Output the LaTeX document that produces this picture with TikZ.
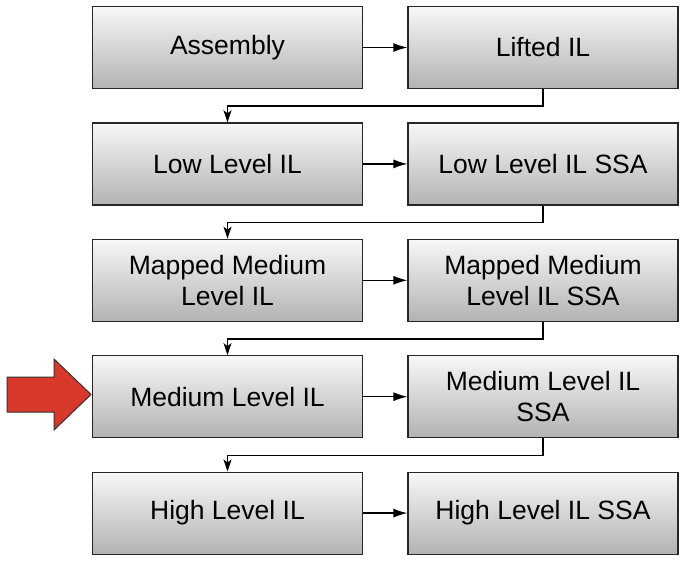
\documentclass[tikz,border=0pt]{standalone}
\usepackage{fontspec}
\setmainfont{Liberation Sans}
\usetikzlibrary{arrows.meta}
\definecolor{pointerred}{HTML}{D8392A}
\begin{document}
\begin{tikzpicture}[x=1pt, y=-1pt,
    stage/.style={draw=black!85, line width=1.2pt, top color=black!3, bottom color=black!30,
                  minimum width=270pt, minimum height=82pt, inner sep=0pt, align=center,
                  font=\fontsize{26.5}{31}\selectfont},
    flow/.style={-{Latex[length=14pt, width=9pt]}, line width=1.3pt},
    drop/.style={-{Stealth[length=12pt, width=8pt, inset=3pt]}, line width=1.3pt}
]
\useasboundingbox (0,0) rectangle (694,565);

\foreach \i/\ltext/\rtext in {0/Assembly/Lifted IL,
    1/Low Level IL/Low Level IL SSA,
    2/{Mapped Medium\\Level IL}/{Mapped Medium\\Level IL SSA},
    3/Medium Level IL/{Medium Level IL\\SSA},
    4/High Level IL/High Level IL SSA}{
  \node[stage] (l\i) at (227.5,{47.5+116.4*\i}) {\ltext};
  \node[stage] (r\i) at (543,{47.5+116.4*\i}) {\rtext};
}

\foreach \i in {0,1,2,3,4}{
  \draw[flow] (l\i) -- (r\i);
  \ifnum\i>0
     \draw[drop] (r\the\numexpr\i-1\relax.south) -- ++(0,17) -| (l\i.north);
  \fi
}

\draw[fill=pointerred, draw=black!80, line width=1pt]
  (7,377) -- (54,377) -- (54,359) -- (91,394.5) -- (54,430) -- (54,412) -- (7,412) -- cycle;

\end{tikzpicture}
\end{document}
